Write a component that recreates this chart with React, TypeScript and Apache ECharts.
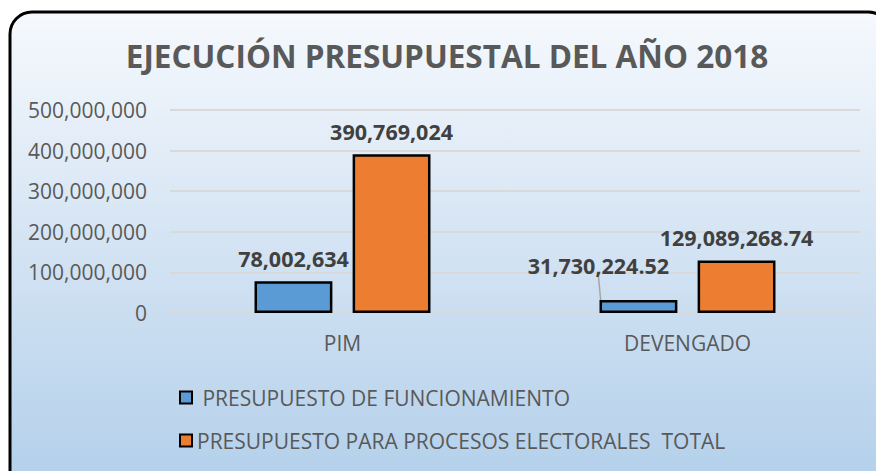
import React, { useEffect, useRef } from "react";
import * as echarts from "echarts";

const categories = ["PIM", "DEVENGADO"];
const seriesNames = [
  "PRESUPUESTO DE FUNCIONAMIENTO",
  "PRESUPUESTO PARA PROCESOS ELECTORALES  TOTAL",
];
const funcionamiento = [78002634, 31730224.52];
const electorales = [390769024, 129089268.74];
const labelTexts0 = ["78,002,634", "31,730,224.52"];
const labelTexts1 = ["390,769,024", "129,089,268.74"];
const colors = ["#5b9bd5", "#ed7d31"];

const FONT = "'Open Sans', sans-serif";

export default function App() {
  const ref = useRef<HTMLDivElement>(null);
  useEffect(() => {
    if (!ref.current) return;
    const chart = echarts.init(ref.current, null, { renderer: "svg" });
    const fmt = (v: number) =>
      v.toString().replace(/\B(?=(\d{3})+(?!\d))/g, ",");
    chart.setOption({
      animation: false,
      graphic: [
        {
          type: "rect",
          z: -10,
          silent: true,
          shape: { x: 10, y: 12, width: 880, height: 480, r: 22 },
          style: {
            fill: new echarts.graphic.LinearGradient(0, 0, 0, 1, [
              { offset: 0, color: "#f6f9fd" },
              { offset: 0.5, color: "#d3e3f3" },
              { offset: 1, color: "#b2cfea" },
            ]),
            stroke: "#000",
            lineWidth: 3,
          },
        },
      ],
      title: {
        text: "EJECUCIÓN PRESUPUESTAL DEL AÑO 2018",
        left: 442,
        top: 34,
        textAlign: "center",
        textStyle: {
          fontFamily: FONT,
          fontWeight: "bold",
          fontSize: 31.5,
          color: "#595959",
        },
      },
      legend: {
        orient: "vertical",
        left: 179,
        top: 387,
        padding: 0,
        itemGap: 22,
        itemWidth: 12,
        itemHeight: 12,
        icon: "rect",
        data: seriesNames,
        formatter: (n: string) => (n === seriesNames[0] ? "\u00a0" + n : n),
        textStyle: { fontFamily: FONT, fontSize: 21, color: "#595959" },
      },
      grid: { left: 170, right: 16, top: 110, bottom: 158 },
      xAxis: {
        type: "category",
        data: categories,
        axisLine: { lineStyle: { color: "#d9d9d9", width: 2 } },
        axisTick: { show: false },
        axisLabel: {
          fontFamily: FONT,
          fontSize: 21,
          color: "#595959",
          margin: 19,
        },
      },
      yAxis: {
        type: "value",
        min: 0,
        max: 500000000,
        interval: 100000000,
        axisLine: { show: false },
        axisTick: { show: false },
        splitLine: { lineStyle: { color: "#d9d9d9", width: 2 } },
        axisLabel: {
          fontFamily: FONT,
          fontSize: 21,
          color: "#595959",
          margin: 23,
          formatter: (v: number) => fmt(v),
        },
      },
      series: [
        {
          name: seriesNames[0],
          type: "bar",
          barGap: "26%",
          barCategoryGap: "49%",
          itemStyle: { color: colors[0], borderColor: "#000", borderWidth: 2.5 },
          data: funcionamiento.map((v, i) => ({
            value: v,
            labelLine:
              i === 1
                ? { show: true, lineStyle: { color: "#a6a6a6", width: 1.5 } }
                : { show: false },
          })),
          label: {
            show: true,
            position: "top",
            distance: 12,
            fontFamily: FONT,
            fontWeight: "bold",
            fontSize: 21.5,
            color: "#404040",
            formatter: (p: any) => labelTexts0[p.dataIndex],
          },
          labelLayout: (p: any) =>
            p.dataIndex === 1 ? { dx: -40, dy: -12 } : {},
        },
        {
          name: seriesNames[1],
          type: "bar",
          itemStyle: { color: colors[1], borderColor: "#000", borderWidth: 2.5 },
          data: electorales,
          label: {
            show: true,
            position: "top",
            distance: 12,
            fontFamily: FONT,
            fontWeight: "bold",
            fontSize: 21.5,
            color: "#404040",
            formatter: (p: any) => labelTexts1[p.dataIndex],
          },
        },
      ],
    });
    return () => chart.dispose();
  }, []);
  return (
    <div
      ref={ref}
      style={{
        position: "fixed",
        left: 0,
        top: 0,
        width: 876,
        height: 471,
        background: "#fff",
      }}
    />
  );
}
